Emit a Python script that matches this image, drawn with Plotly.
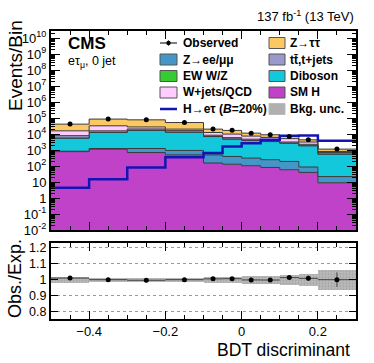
import plotly.graph_objects as go
from plotly.subplots import make_subplots

# BDT bins
edges = [-0.5, -0.4, -0.3, -0.2, -0.1, -0.05, 0.0, 0.05, 0.1, 0.15, 0.2, 0.3]
centers = [-0.45, -0.35, -0.25, -0.15, -0.075, -0.025, 0.025, 0.075, 0.125, 0.175, 0.25]

# background yields per bin
sm_h = [800, 1150, 700, 500, 155, 130, 105, 82, 59, 40, 9]
z_ll = [50, 100, 550, 450, 345, 270, 211, 168, 136, 47, 13]
diboson = [4750, 11350, 15750, 12050, 6500, 4500, 3684, 3150, 2505, 1773, 538]
ew_wz = [100, 200, 250, 200, 100, 80, 60, 50, 40, 30, 10]
ttbar = [2300, 3200, 3750, 3300, 1400, 1020, 740, 650, 460, 410, 130]
wjets = [8000, 17000, 7000, 4000, 4100, 4000, 2700, 2100, 2000, 900, 120]
z_tautau = [26000, 54000, 50000, 32500, 7900, 7000, 4000, 2900, 1900, 1200, 330]

observed = [42400, 87000, 77700, 53000, 20600, 17100, 11480, 9080, 7190, 4435, 1150]
obs_err = [0.005, 0.003, 0.004, 0.004, 0.007, 0.008, 0.009, 0.011, 0.012, 0.016, 0.045]
bkg_unc = [0.021, 0.014, 0.014, 0.014, 0.019, 0.019, 0.024, 0.024, 0.03, 0.038, 0.06]

# H -> e tau signal, B = 20%
signal = [4.4, 15, 80, 350, 650, 1700, 2700, 4400, 7900, 8100, 3800]

log_ticks = list(range(-2, 11))
log_labels = ["10<sup>-2</sup>", "10<sup>-1</sup>", "1", "10"] + ["10<sup>%d</sup>" % k for k in range(2, 11)]
ratio_ticks = [0.8, 0.9, 1.0, 1.1, 1.2]
ratio_labels = ["0.8", "0.9", "1", "1.1", "1.2"]
x_ticks = [-0.4, -0.2, 0.0, 0.2]
x_labels = ["\u22120.4", "\u22120.2", "0", "0.2"]

layers = [
    ("SM H", sm_h, "#C042C8"),
    ("Z\u2192ee/\u03bc\u03bc", z_ll, "#4496C8"),
    ("Diboson", diboson, "#14C8DC"),
    ("EW W/Z", ew_wz, "#33CC33"),
    ("tt\u0304,t+jets", ttbar, "#9999CC"),
    ("W+jets/QCD", wjets, "#FFCCFF"),
    ("Z\u2192\u03c4\u03c4", z_tautau, "#FBC862"),
]

FONT = "Liberation Sans, Arial, sans-serif"
W, H = 374, 363
L, R, T, B = 51, 18, 31, 44


def px(x):
    return (x - L) / (W - L - R)


def py(y):
    return (H - B - y) / (H - T - B)


def steps(vals):
    return list(vals) + [vals[-1]]


fig = make_subplots(rows=2, cols=1, shared_xaxes=False)

# stacked backgrounds as filled step histograms
fig.add_trace(go.Scatter(x=edges, y=[1e-3] * len(edges), mode="lines",
                         line=dict(width=0), showlegend=False, hoverinfo="skip"), row=1, col=1)
cum = [0.0] * len(centers)
for name, vals, color in layers:
    cum = [c + v for c, v in zip(cum, vals)]
    fig.add_trace(go.Scatter(x=edges, y=steps(cum), mode="lines", line_shape="hv",
                             line=dict(color="#3a3a3a", width=1), fill="tonexty",
                             fillcolor=color, name=name, showlegend=False), row=1, col=1)
total = cum

fig.add_trace(go.Scatter(x=edges, y=steps(signal), mode="lines", line_shape="hv",
                         line=dict(color="#1414B4", width=2.5), showlegend=False), row=1, col=1)

half = [(edges[i + 1] - edges[i]) / 2 for i in range(len(centers))]
fig.add_trace(go.Scatter(x=centers, y=observed, mode="markers",
                         marker=dict(color="black", size=5),
                         showlegend=False), row=1, col=1)

# ratio panel
widths = [edges[i + 1] - edges[i] for i in range(len(centers))]
fig.add_trace(go.Bar(x=centers, y=[2 * u for u in bkg_unc], base=[1 - u for u in bkg_unc],
                     width=widths, marker=dict(color="#bcbcbc", line=dict(width=0),
                                               pattern=dict(shape=".", fgcolor="#8a8a8a",
                                                            size=3, solidity=0.4)),
                     showlegend=False), row=2, col=1)
ratio = [o / t for o, t in zip(observed, total)]
fig.add_trace(go.Scatter(x=centers, y=ratio, mode="markers",
                         marker=dict(color="black", size=5),
                         error_x=dict(type="data", array=half, color="#444", thickness=1, width=0),
                         error_y=dict(type="data", array=obs_err, color="#444", thickness=1, width=0),
                         showlegend=False), row=2, col=1)

axis_common = dict(ticks="inside", showline=True, linewidth=2, linecolor="black",
                   mirror="allticks", tickcolor="black", tickfont=dict(family=FONT, size=13, color="black"),
                   showgrid=False, zeroline=False)

fig.update_layout(
    width=W, height=H, margin=dict(l=L, r=R, t=T, b=B),
    paper_bgcolor="white", plot_bgcolor="white", bargap=0,
    font=dict(family=FONT, color="black"),
    xaxis=dict(axis_common, domain=[0, 1], range=[-0.5, 0.3], tickvals=x_ticks,
               showticklabels=False, ticklen=8,
               minor=dict(ticks="inside", ticklen=4, dtick=0.05, tick0=0, tickcolor="black")),
    yaxis=dict(axis_common, domain=[py(230), 1], type="log", range=[-2, 10.45],
               tickvals=[10 ** k for k in log_ticks], ticktext=log_labels, ticklen=9,
               minor=dict(ticks="inside", ticklen=4, tickcolor="black",
                          tickvals=[m * 10 ** k for k in range(-2, 11) for m in range(2, 10)])),
    xaxis2=dict(axis_common, domain=[0, 1], range=[-0.5, 0.3], tickvals=x_ticks,
                ticktext=x_labels, ticklen=8, ticklabelstandoff=-1,
                minor=dict(ticks="inside", ticklen=4, dtick=0.05, tick0=0, tickcolor="black")),
    yaxis2=dict(axis_common, domain=[0, py(242.7)], range=[0.755, 1.23],
                tickvals=ratio_ticks, ticktext=ratio_labels, ticklen=7,
                showgrid=True, gridcolor="#9a9a9a", griddash="dot", gridwidth=1,
                tickfont=dict(family=FONT, size=12.5, color="black")),
)

ann = []
ann.append(dict(x=px(356), y=py(16), xref="paper", yref="paper", xanchor="right", yanchor="middle",
                text="137 fb<sup>-1</sup> (13 TeV)", showarrow=False, font=dict(size=13)))
ann.append(dict(x=px(66), y=py(44), xref="paper", yref="paper", xanchor="left", yanchor="middle",
                text="<b>CMS</b>", showarrow=False, font=dict(size=17)))
ann.append(dict(x=px(66), y=py(62), xref="paper", yref="paper", xanchor="left", yanchor="middle",
                text="e\u03c4<sub>\u03bc</sub>, 0 jet", showarrow=False, font=dict(size=12.5)))
ann.append(dict(x=px(15), y=py(66), xref="paper", yref="paper", xanchor="center", yanchor="middle",
                text="Events/Bin", textangle=-90, showarrow=False, font=dict(size=19)))
ann.append(dict(x=px(15), y=py(279), xref="paper", yref="paper", xanchor="center", yanchor="middle",
                text="Obs./Exp.", textangle=-90, showarrow=False, font=dict(size=18)))
ann.append(dict(x=px(352), y=py(350), xref="paper", yref="paper", xanchor="right", yanchor="middle",
                text="BDT discriminant", showarrow=False, font=dict(size=17.5)))

# legend drawn by hand in two columns
colour = {n: c for n, _, c in layers}
rows_y = [43, 59.5, 76, 92.5, 109]
col1 = [("Observed", "obs"), ("Z\u2192ee/\u03bc\u03bc", "box"), ("EW W/Z", "box"),
        ("W+jets/QCD", "box"), ("H\u2192e\u03c4 (<i>B</i>=20%)", "line")]
col2 = [("Z\u2192\u03c4\u03c4", "box"), ("tt\u0304,t+jets", "box"), ("Diboson", "box"),
        ("SM H", "box"), ("Bkg. unc.", "unc")]
shapes = []
for (x0, x1, xt), col in [((160, 177, 181), col1), ((269, 285, 288), col2)]:
    for yy, (label, kind) in zip(rows_y, col):
        if kind == "box":
            shapes.append(dict(type="rect", xref="paper", yref="paper",
                               x0=px(x0), x1=px(x1), y0=py(yy + 5.5), y1=py(yy - 5.5),
                               fillcolor=colour[label], line=dict(color="#555", width=1)))
        elif kind == "unc":
            shapes.append(dict(type="rect", xref="paper", yref="paper",
                               x0=px(x0), x1=px(x1), y0=py(yy + 5.5), y1=py(yy - 5.5),
                               fillcolor="#b0b0b0", line=dict(color="#bbb", width=1)))
        elif kind == "line":
            shapes.append(dict(type="line", xref="paper", yref="paper",
                               x0=px(x0), x1=px(x1), y0=py(yy), y1=py(yy),
                               line=dict(color="#1414B4", width=2.5)))
        else:
            shapes.append(dict(type="line", xref="paper", yref="paper",
                               x0=px(x0), x1=px(x1), y0=py(yy), y1=py(yy),
                               line=dict(color="black", width=1)))
            shapes.append(dict(type="line", xref="paper", yref="paper",
                               x0=px((x0 + x1) / 2), x1=px((x0 + x1) / 2), y0=py(yy - 2.5), y1=py(yy + 2.5),
                               line=dict(color="black", width=1)))
            shapes.append(dict(type="circle", xref="paper", yref="paper",
                               x0=px((x0 + x1) / 2 - 2.2), x1=px((x0 + x1) / 2 + 2.2),
                               y0=py(yy + 2.2), y1=py(yy - 2.2),
                               fillcolor="black", line=dict(color="black", width=0)))
        ann.append(dict(x=px(xt), y=py(yy), xref="paper", yref="paper", xanchor="left",
                        yanchor="middle", text="<b>%s</b>" % label, showarrow=False,
                        font=dict(size=12)))

fig.update_layout(annotations=ann, shapes=shapes)

fig.write_html("out.html", config={"displayModeBar": False},
               post_script="document.body.style.margin='0';")
